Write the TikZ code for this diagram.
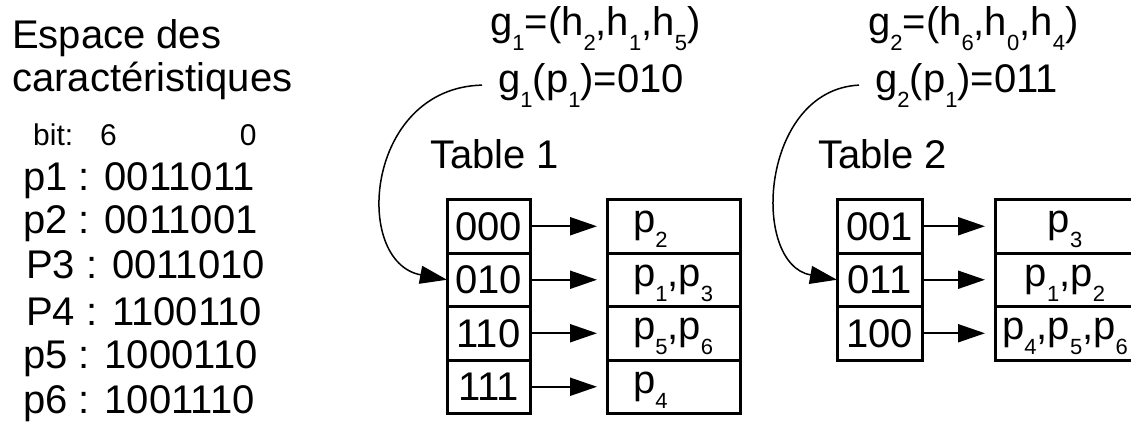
\documentclass[tikz,border=0pt]{standalone}
\usepackage{fontspec}
\setmainfont{Liberation Sans}
\usepackage{tikz}
\usetikzlibrary{positioning,arrows.meta}

\newcommand{\idx}[1]{\raisebox{-0.38em}{\fontsize{22}{22}\selectfont #1}}

\begin{document}
\begin{tikzpicture}[
    x=1pt, y=-1pt,
    txt/.style={inner sep=0pt, anchor=base west, font=\fontsize{40}{42}\selectfont},
    small/.style={txt, font=\fontsize{30}{32}\selectfont},
    key/.style={draw, line width=3pt, minimum width=83pt, minimum height=53.5pt, inner sep=0pt, outer sep=0pt, font=\fontsize{40}{42}\selectfont},
    val/.style={key, minimum width=133pt, text depth=9pt},
    arr/.style={-{Triangle[length=27pt,width=18pt]}, line width=2pt, shorten >=10pt},
    hook/.style={-{Triangle[length=27pt,width=18pt]}, line width=1.5pt}
]
    \useasboundingbox (0,0) rectangle (1131,426);
    \fill[white] (0,0) rectangle (1131,426);

    % feature space
    \node[txt] (esp1) at (12,48) {Espace des};
    \node[txt] (esp2) at (12,91) {caractéristiques};
    \node[small] (bits) at (33,145) {bit:\hspace{27pt}6\hspace{123pt}0};
    \node[txt] (p1) at (23,190.7) {p1 : 0011011};
    \node[txt] (p2) at (23,233.3) {p2 : 0011001};
    \node[txt] (p3) at (26,278.3) {P3 : 0011010};
    \node[txt] (p4) at (26,325)   {P4 : 1100110};
    \node[txt] (p5) at (23,368.3) {p5 : 1000110};
    \node[txt] (p6) at (23,413.3) {p6 : 1001110};

    % table 1
    \node[txt] (g1) at (490,35) {g\idx{1}=(h\idx{2},h\idx{1},h\idx{5})};
    \node[txt, inner xsep=16pt] (g1p) at (482,92) {g\idx{1}(p\idx{1})=010};
    \node[txt] (t1) at (430,168) {Table 1};
    \node[key] (k1a) at (488.5,226.25) {000};
    \node[key, below=0pt of k1a] (k1b) {010};
    \node[key, below=0pt of k1b] (k1c) {110};
    \node[key, below=0pt of k1c] (k1d) {111};
    \node[val, text width=81pt, align=left] (v1a) at (673.5,226.25) {p\idx{2}};
    \node[val, text width=81pt, align=left, below=0pt of v1a] (v1b) {p\idx{1},p\idx{3}};
    \node[val, text width=81pt, align=left, below=0pt of v1b] (v1c) {p\idx{5},p\idx{6}};
    \node[val, text width=81pt, align=left, below=0pt of v1c] (v1d) {p\idx{4}};
    \draw[arr] (k1a) -- (v1a);
    \draw[arr] (k1b) -- (v1b);
    \draw[arr] (k1c) -- (v1c);
    \draw[arr] (k1d) -- (v1d);
    \draw[hook] (g1p.west) .. controls (365,88) and (352,262) .. (k1b.west);

    % table 2
    \node[txt] (g2) at (868,35) {g\idx{2}=(h\idx{6},h\idx{0},h\idx{4})};
    \node[txt, inner xsep=16pt] (g2p) at (859,92) {g\idx{2}(p\idx{1})=011};
    \node[txt] (t2) at (818,168) {Table 2};
    \node[key, minimum width=85pt] (k2a) at (879.5,226.25) {001};
    \node[key, minimum width=85pt, below=0pt of k2a] (k2b) {011};
    \node[key, minimum width=85pt, below=0pt of k2b] (k2c) {100};
    \node[val, minimum width=140pt] (v2a) at (1065,226.25) {p\idx{3}};
    \node[val, minimum width=140pt, below=0pt of v2a] (v2b) {p\idx{1},p\idx{2}};
    \node[val, minimum width=140pt, below=0pt of v2b] (v2c) {p\idx{4},p\idx{5},p\idx{6}};
    \draw[arr] (k2a) -- (v2a);
    \draw[arr] (k2b) -- (v2b);
    \draw[arr] (k2c) -- (v2c);
    \draw[hook] (g2p.west) .. controls (760,90) and (750,264) .. (k2b.west);
\end{tikzpicture}
\end{document}
